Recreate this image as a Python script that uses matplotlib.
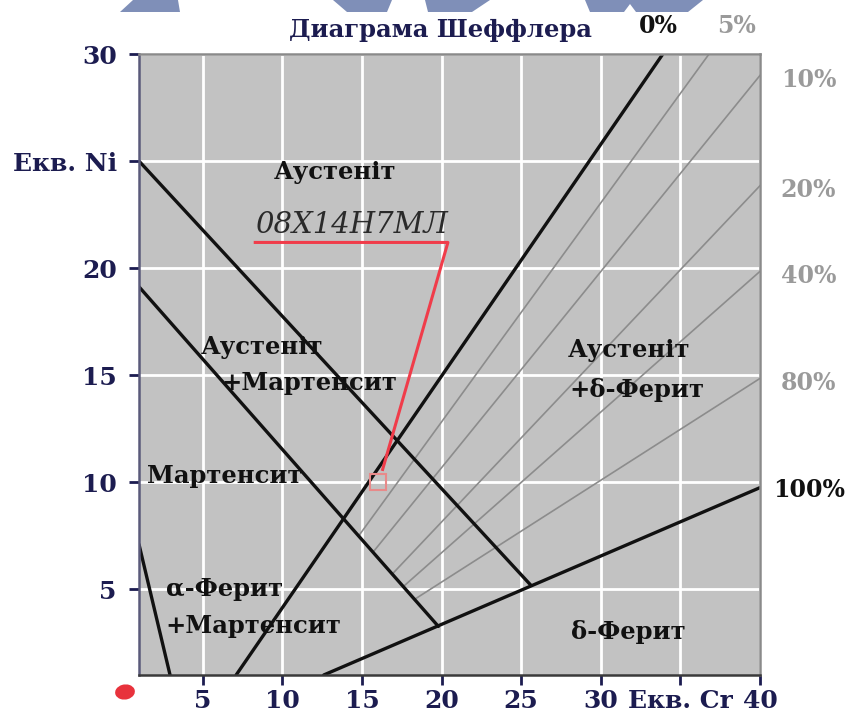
import matplotlib
matplotlib.use('Agg')
import matplotlib.pyplot as plt
from matplotlib.patches import Polygon, Ellipse

W, H = 853, 720

# Axis ticks and labels
x_ticks = [5, 10, 15, 20, 25, 30, 35, 40]
x_labels = ['5', '10', '15', '20', '25', '30', 'Екв. Cr', '40']
y_ticks = [5, 10, 15, 20, 25, 30]
y_labels = ['5', '10', '15', '20', 'Екв. Ni', '30']

# Phase boundaries (Cr eq, Ni eq)
aust_mart_x = [1.0, 25.6]
aust_mart_y = [25.0, 5.2]
mart_x = [1.0, 19.8]
mart_y = [19.13, 3.27]
ferrite0_x = [7.1, 33.9]
ferrite0_y = [1.0, 30.0]
ferrite100_x = [12.6, 40.0]
ferrite100_y = [1.0, 9.75]
alpha_x = [1.0, 2.95]
alpha_y = [7.1, 1.0]

# Intermediate ferrite content lines
ferrite_pct = ['5%', '10%', '20%', '40%', '80%']
ferrite_x0 = [14.8, 15.7, 16.9, 17.6, 18.3]
ferrite_y0 = [7.5, 6.74, 5.71, 5.13, 4.53]
ferrite_x1 = [36.8, 40.0, 40.0, 40.0, 40.0]
ferrite_y1 = [30.0, 29.0, 23.85, 19.85, 14.85]

# Steel 08Х14Н7МЛ
steel_name = '08Х14Н7МЛ'
steel_cr = 16.0
steel_ni = 10.0
leader_x = [8.3, 20.4, 16.3]
leader_y = [21.2, 21.2, 10.6]

navy = '#1c1c50'
serif = 'DejaVu Serif'

fig = plt.figure(figsize=(W / 100, H / 100), dpi=100)
ax = fig.add_axes([139 / W, 1 - 675 / H, 621 / W, 621 / H])
ax.set_facecolor('#c2c2c2')
ax.set_xlim(1, 40)
ax.set_ylim(1, 30)

ax.tick_params(direction='out', length=7, width=2, color=navy, pad=3)
ax.tick_params(axis='y', pad=9)
tick_font = dict(fontsize=18, fontfamily=serif, fontweight='bold', color=navy)
ax.set_xticks(x_ticks)
ax.set_xticklabels(x_labels, **tick_font)
ax.set_yticks(y_ticks)
ax.set_yticklabels(y_labels, **tick_font)
ax.grid(True, color='white', linewidth=2.0)
ax.set_axisbelow(True)

ax.spines['left'].set_color('#5a5a7a')
ax.spines['bottom'].set_color('#3a3a3a')
ax.spines['top'].set_color('#8a8a8a')
ax.spines['right'].set_color('#8a8a8a')
for s in ax.spines.values():
    s.set_linewidth(1.8)

pct_style = dict(va='center', fontsize=17, fontfamily=serif, fontweight='bold',
                 clip_on=False)

# gray ferrite lines
for x0, y0, x1, y1, pct in zip(ferrite_x0, ferrite_y0, ferrite_x1, ferrite_y1, ferrite_pct):
    ax.plot([x0, x1], [y0, y1], color='#8c8c8c', linewidth=1.2)
    if y1 >= 30:
        ax.text(x1 + 1.7, y1 + 1.3, pct, ha='center', color='#9a9a9a', **pct_style)
    else:
        ax.text(41.3, y1 - 0.2, pct, ha='left', color='#9a9a9a', **pct_style)

# black boundaries
for xs, ys in [(aust_mart_x, aust_mart_y), (mart_x, mart_y), (ferrite0_x, ferrite0_y),
               (ferrite100_x, ferrite100_y), (alpha_x, alpha_y)]:
    ax.plot(xs, ys, color='#111111', linewidth=2.4, solid_capstyle='round')

ax.text(ferrite0_x[1] - 0.3, 31.3, '0%', ha='center', color='#111111', **pct_style)
ax.text(40.8, ferrite100_y[1] - 0.1, '100%', ha='left', color='#111111', **pct_style)

# steel point with leader
ax.plot(leader_x, leader_y, color='#f03c4a', linewidth=2.2)
ax.plot([steel_cr], [steel_ni], marker='s', markersize=11, markerfacecolor='none',
        markeredgecolor='#e88a8a', markeredgewidth=1.5)
ax.text(leader_x[0], 22.0, steel_name, ha='left', va='center', fontsize=21,
        fontfamily=serif, fontstyle='italic', color='#2a2a2a')

# phase regions
region_style = dict(ha='center', va='center', fontsize=17.5, fontfamily=serif,
                    fontweight='bold', color='#111111')
ax.text(13.3, 24.5, 'Аустеніт', **region_style)
ax.text(8.7, 16.33, 'Аустеніт', **region_style)
ax.text(11.7, 14.65, '+Мартенсит', **region_style)
ax.text(6.4, 10.27, 'Мартенсит', **region_style)
ax.text(6.4, 5.0, 'α-Ферит', **region_style)
ax.text(8.2, 3.27, '+Мартенсит', **region_style)
ax.text(31.8, 16.2, 'Аустеніт', **region_style)
ax.text(32.25, 14.3, '+δ-Ферит', **region_style)
ax.text(31.7, 3.0, 'δ-Ферит', **region_style)

ax.text(0.486, 1.039, 'Диаграма Шеффлера', transform=ax.transAxes, ha='center',
        va='center', fontsize=17.5, fontfamily=serif, fontweight='bold', color=navy)


def px(points):
    return [(x / W, 1 - y / H) for x, y in points]


# banner shapes along the top edge
banner_color = '#7f8fb8'
for shape in [
    [(120, 12), (180, 12), (178, 0), (133, 0)],
    [(333, 0), (392, 0), (387, 12), (347, 12)],
    [(425, 0), (490, 0), (472, 12), (428, 12)],
    [(585, 0), (703, 0), (688, 12), (636, 12), (630, 4), (624, 12), (590, 12)],
]:
    fig.add_artist(Polygon(px(shape), closed=True, transform=fig.transFigure,
                           facecolor=banner_color, edgecolor='none'))

fig.add_artist(Ellipse((125 / W, 1 - 692 / H), 20 / W, 15 / H, angle=20,
                       transform=fig.transFigure, facecolor='#e8323c', edgecolor='none'))

fig.savefig('out.png', dpi=100)
